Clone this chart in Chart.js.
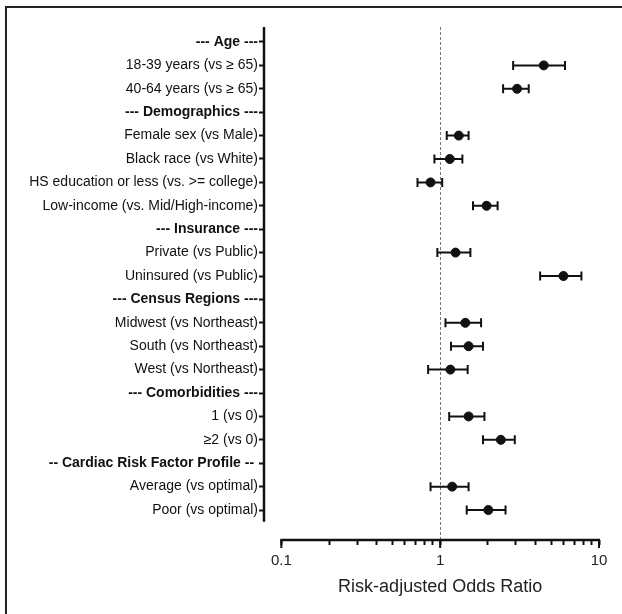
<!DOCTYPE html>
<html>
<head>
<meta charset="utf-8">
<script src="https://cdn.jsdelivr.net/npm/chart.js@4"></script>
<style>
  html, body { margin: 0; padding: 0; background: #fff; overflow: hidden; }
  #wrap { position: relative; width: 622px; height: 614px; }
  #frame { position: absolute; left: 5px; top: 6px; width: 640px; height: 640px;
           border-left: 2px solid #222; border-top: 2px solid #222; }
  canvas { position: absolute; left: 0; top: 0; }
</style>
</head>
<body>
<div id="wrap">
  <div id="frame"></div>
  <canvas id="chart" width="622" height="614"></canvas>
</div>
<script>
const labels = [
    '--- Age ---',
    '18-39 years (vs \u2265 65)',
    '40-64 years (vs \u2265 65)',
    '--- Demographics ---',
    'Female sex (vs Male)',
    'Black race (vs White)',
    'HS education or less (vs. >= college)',
    'Low-income (vs. Mid/High-income)',
    '--- Insurance ---',
    'Private (vs Public)',
    'Uninsured (vs Public)',
    '--- Census Regions ---',
    'Midwest (vs Northeast)',
    'South (vs Northeast)',
    'West (vs Northeast)',
    '--- Comorbidities ---',
    '1 (vs 0)',
    '\u22652 (vs 0)',
    '-- Cardiac Risk Factor Profile -- ',
    'Average (vs optimal)',
    'Poor (vs optimal)'
];
const oddsRatio = [null, 4.49, 3.05, null, 1.31, 1.15, 0.87, 1.96, null, 1.25, 5.97, null, 1.44, 1.51, 1.16, null, 1.51, 2.41, null, 1.19, 2.01];
const lowerCI   = [null, 2.88, 2.49, null, 1.10, 0.92, 0.72, 1.61, null, 0.96, 4.26, null, 1.08, 1.17, 0.84, null, 1.14, 1.86, null, 0.87, 1.47];
const upperCI   = [null, 6.11, 3.61, null, 1.51, 1.38, 1.03, 2.30, null, 1.55, 7.75, null, 1.81, 1.86, 1.49, null, 1.90, 2.95, null, 1.51, 2.58];
const xTicks = [0.1, 0.2, 0.3, 0.4, 0.5, 0.6, 0.7, 0.8, 0.9, 1, 2, 3, 4, 5, 6, 7, 8, 9, 10];
const xLabels = [0.1, 1, 10];
const xTitle = 'Risk-adjusted Odds Ratio';

const isHeader = i => oddsRatio[i] === null;
const FONT = '"Liberation Sans", Arial, Helvetica, sans-serif';
const INK = '#111';

const points = [];
oddsRatio.forEach((v, i) => { if (v !== null) points.push({ x: v, y: i }); });

const forestPlugin = {
    id: 'forest',
    beforeDatasetsDraw(chart) {
        const { ctx, scales: { x, y } } = chart;
        ctx.save();
        // reference line at OR = 1
        ctx.strokeStyle = '#777';
        ctx.lineWidth = 1;
        ctx.setLineDash([3, 2]);
        const x1 = Math.round(x.getPixelForValue(1)) + 0.5;
        ctx.beginPath();
        ctx.moveTo(x1, y.getPixelForValue(y.min));
        ctx.lineTo(x1, y.getPixelForValue(y.max));
        ctx.stroke();
        ctx.setLineDash([]);

        // confidence intervals
        ctx.strokeStyle = INK;
        ctx.lineWidth = 2;
        oddsRatio.forEach((v, i) => {
            if (v === null) return;
            const yp = y.getPixelForValue(i);
            const xl = x.getPixelForValue(lowerCI[i]);
            const xh = x.getPixelForValue(upperCI[i]);
            ctx.beginPath();
            ctx.moveTo(xl, yp); ctx.lineTo(xh, yp);
            ctx.moveTo(xl, yp - 4.5); ctx.lineTo(xl, yp + 4.5);
            ctx.moveTo(xh, yp - 4.5); ctx.lineTo(xh, yp + 4.5);
            ctx.stroke();
        });

        // y axis line (stops short of the x axis)
        ctx.lineWidth = 2.5;
        ctx.beginPath();
        ctx.moveTo(chart.chartArea.left, y.getPixelForValue(y.min));
        ctx.lineTo(chart.chartArea.left, y.getPixelForValue(20.5));
        ctx.stroke();

        // x axis line from 0.1 to 10, major ticks longer
        const xb = chart.chartArea.bottom;
        const xa = x.getPixelForValue(0.1), xz = x.getPixelForValue(10);
        ctx.beginPath();
        ctx.moveTo(xa - 1, xb); ctx.lineTo(xz + 1, xb);
        ctx.stroke();
        ctx.lineWidth = 2;
        xLabels.forEach(v => {
            const px = x.getPixelForValue(v);
            ctx.beginPath();
            ctx.moveTo(px, xb); ctx.lineTo(px, xb + 8);
            ctx.stroke();
        });

        // axis title, centred under the 0.1-10 axis line
        ctx.fillStyle = '#222';
        ctx.font = '18px ' + FONT;
        ctx.textAlign = 'center';
        ctx.textBaseline = 'middle';
        ctx.fillText(xTitle, (xa + xz) / 2, xb + 47);
        ctx.restore();
    }
};

new Chart(document.getElementById('chart'), {
    type: 'scatter',
    data: {
        datasets: [{
            data: points,
            backgroundColor: INK,
            borderColor: INK,
            pointRadius: 4.5,
            pointHoverRadius: 4.5
        }]
    },
    options: {
        responsive: false,
        animation: false,
        layout: { padding: { left: 0, top: 27, right: 23, bottom: 0 } },
        plugins: { legend: { display: false }, tooltip: { enabled: false } },
        scales: {
            x: {
                type: 'logarithmic',
                min: 0.0778,
                max: 10,
                afterBuildTicks: scale => { scale.ticks = xTicks.map(v => ({ value: v })); },
                afterFit: scale => { scale.height = 74; },
                border: { display: false },
                grid: { drawOnChartArea: false, tickLength: 5, tickWidth: 2, tickColor: INK },
                ticks: {
                    autoSkip: false,
                    maxRotation: 0,
                    padding: 7,
                    color: '#222',
                    font: { family: FONT, size: 15 },
                    callback: v => xLabels.includes(v) ? String(v) : ''
                }
            },
            y: {
                type: 'linear',
                reverse: true,
                min: -0.64,
                max: 21.28,
                afterBuildTicks: scale => { scale.ticks = labels.map((l, i) => ({ value: i })); },
                afterFit: scale => { scale.width = 264; },
                border: { display: false },
                grid: { drawOnChartArea: false, tickLength: 5, tickWidth: 2, tickColor: INK },
                ticks: {
                    autoSkip: false,
                    padding: 1,
                    color: '#111',
                    font: c => ({ family: FONT, size: 14, weight: isHeader(c.index) ? 'bold' : 'normal' }),
                    callback: (v, i) => labels[i]
                }
            }
        }
    },
    plugins: [forestPlugin]
});
</script>
</body>
</html>
